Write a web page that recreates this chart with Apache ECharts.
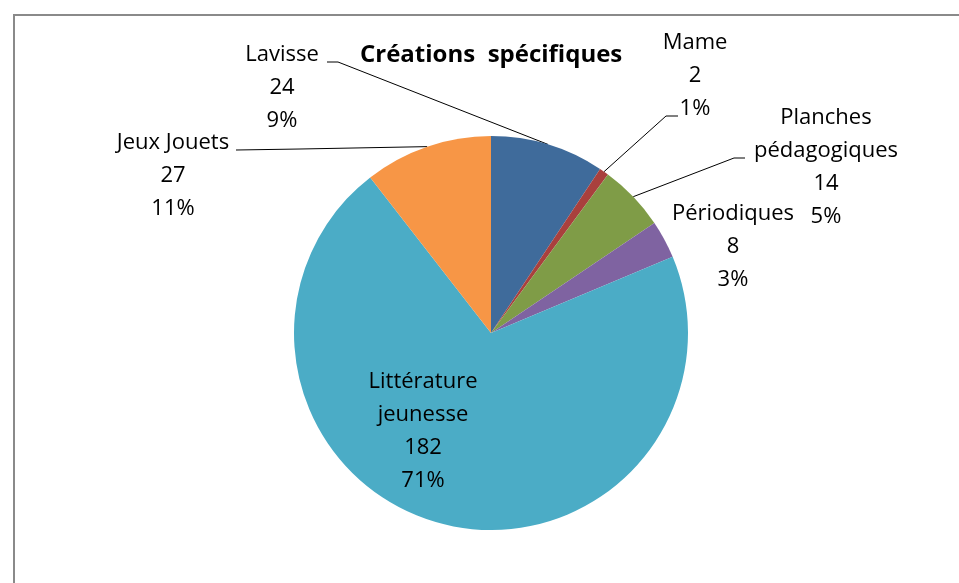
<!DOCTYPE html>
<html><head><meta charset="utf-8">
<script src="https://cdn.jsdelivr.net/npm/echarts@6/dist/echarts.min.js"></script>
<style>html,body{margin:0;padding:0;background:#fff}#c{width:959px;height:583px}</style>
</head><body><div id="c"></div>
<script>
const categories = ['Lavisse', 'Mame', 'Planches pédagogiques', 'Périodiques', 'Littérature jeunesse', 'Jeux Jouets'];
const values = [24, 2, 14, 8, 182, 27];
const colors = ['#3F6B9B', '#A9403D', '#7F9C47', '#7F63A1', '#4BACC6', '#F79646'];
const titleText = 'Créations  spécifiques';

// layout only: pie geometry, label anchors and leader-line elbows (pixels)
const CENTER = [491, 333], RADIUS = 197;
const labelPos = [
  {x: 282, y: 88}, {x: 695, y: 76}, {x: 826, y: 167},
  {x: 733, y: 247}, {x: 423, y: 431}, {x: 173, y: 176}
];
const leaderEnds = [
  [[338, 62], [327, 62]],
  [[666, 116], [678, 116]],
  [[734, 158], [745, 158]],
  null,
  null,
  [[300, 149], [236, 150]]
];

const total = values.reduce((a, b) => a + b, 0);
function arcMid(i) {
  let cum = 0;
  for (let k = 0; k < i; k++) cum += values[k];
  const a = (cum + values[i] / 2) / total * Math.PI * 2;
  return [CENTER[0] + RADIUS * Math.sin(a), CENTER[1] - RADIUS * Math.cos(a)];
}

const FONT = 'Open Sans';
const chart = echarts.init(document.getElementById('c'));
chart.setOption({
  animation: false,
  title: {
    text: titleText, left: 355, top: 38,
    textStyle: {fontFamily: FONT, fontWeight: 'bold', fontSize: 24, color: '#000'}
  },
  graphic: [{
    type: 'rect', shape: {x: 14, y: 15, width: 1100, height: 1100},
    style: {fill: 'none', stroke: '#8a8a8a', lineWidth: 2}, silent: true
  }],
  series: [{
    type: 'pie',
    center: CENTER,
    radius: RADIUS,
    startAngle: 90,
    clockwise: true,
    avoidLabelOverlap: false,
    itemStyle: {borderWidth: 0},
    label: {
      show: true,
      fontFamily: FONT, fontSize: 22, color: '#000', lineHeight: 33, align: 'center',
      formatter: p => {
        const n = p.name.length > 12 ? p.name.replace(' ', '\n') : p.name;
        return n + '\n' + p.value + '\n' + Math.round(p.percent) + '%';
      }
    },
    labelLine: {show: true, length: 20, length2: 10, lineStyle: {color: '#000', width: 1}},
    labelLayout: p => {
      const i = p.dataIndex;
      const o = {x: labelPos[i].x, y: labelPos[i].y, align: 'center', verticalAlign: 'middle'};
      if (leaderEnds[i]) o.labelLinePoints = [arcMid(i), leaderEnds[i][0], leaderEnds[i][1]];
      return o;
    },
    data: categories.map((c, i) => {
      const d = {name: c, value: values[i], itemStyle: {color: colors[i]}};
      if (!leaderEnds[i]) d.labelLine = {show: false};
      return d;
    })
  }]
});
</script></body></html>
